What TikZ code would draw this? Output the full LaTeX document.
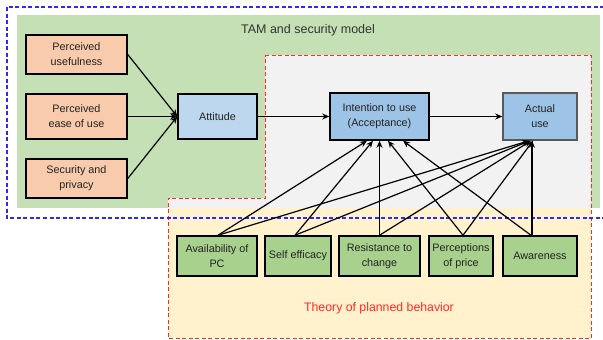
\documentclass[tikz,border=0pt]{standalone}
\usepackage{fontspec}
\setmainfont{Liberation Sans}
\usetikzlibrary{arrows.meta,calc}
\definecolor{tamgreen}{HTML}{C5E0B4}
\definecolor{tpbgray}{HTML}{F2F2F2}
\definecolor{tpbyellow}{HTML}{FFF2CC}
\definecolor{peach}{HTML}{F8CBAD}
\definecolor{lblue}{HTML}{BDD7EE}
\definecolor{mblue}{HTML}{9DC3E6}
\definecolor{bgreen}{HTML}{A9D18E}
\definecolor{txt}{HTML}{222222}
\definecolor{tpbred}{HTML}{FF2A2A}
\definecolor{tamblue}{HTML}{2A2AFF}
\tikzset{
  box/.style={draw=black, line width=1.5pt, align=center, inner sep=1pt,
    font=\fontsize{10.8}{15}\selectfont, text=txt},
  arr/.style={line width=1.2pt, -{Stealth[length=7pt,width=6pt]}},
  lbl/.style={font=\fontsize{12.5}{15}\selectfont}
}
\begin{document}
\begin{tikzpicture}[x=1pt,y=-1pt]
\useasboundingbox (0,0) rectangle (603,340);
\fill[white] (0,0) rectangle (603,340);
% backgrounds
\fill[tamgreen] (17,15) rectangle (600,208);
\fill[tpbgray] (265,55) -- (591,55) -- (591,208) -- (168,208) -- (168,198) -- (265,198) -- cycle;
\fill[tpbyellow] (168,208) rectangle (591,338);
\draw[tpbred, line width=1pt, dash pattern=on 4pt off 2.5pt] (265,55) -- (591,55) -- (591,338) -- (168,338) -- (168,198) -- (265,198) -- cycle;
\draw[tamblue, line width=1.2pt, dash pattern=on 4pt off 2.5pt] (7,7) rectangle (608,218);
% titles
\node[lbl, text=black!80] (tamtitle) at (308,30) {TAM and security model};
\node[lbl, text=tpbred, font=\fontsize{12.3}{15}\selectfont] (tpbtitle) at (379,308) {Theory of planned behavior};
% TAM boxes
\node[box, fill=peach, minimum width=101pt, minimum height=39pt] (pu) at (76.5,54.5) {Perceived\\usefulness};
\node[box, fill=peach, minimum width=101pt, minimum height=45pt] (peou) at (76.5,116.5) {Perceived\\ease of use};
\node[box, fill=peach, minimum width=101pt, minimum height=39pt] (sp) at (76.5,178.5) {Security and\\privacy};
\node[box, fill=lblue, minimum width=79pt, minimum height=45pt] (att) at (217.5,116.5) {Attitude};
\node[box, fill=mblue, minimum width=99pt, minimum height=47pt] (int) at (379.5,116.5) {Intention to use\\(Acceptance)};
\node[box, fill=mblue, draw=black!65, minimum width=74pt, minimum height=47pt] (act) at (540,116.5) {Actual\\use};
% TPB boxes
\node[box, fill=bgreen, minimum width=80pt, minimum height=40pt] (avail) at (217,256) {Availability of\\PC};
\node[box, fill=bgreen, minimum width=66pt, minimum height=40pt] (self) at (298,256) {Self efficacy};
\node[box, fill=bgreen, minimum width=81pt, minimum height=40pt] (resist) at (379.5,256) {Resistance to\\change};
\node[box, fill=bgreen, minimum width=64pt, minimum height=40pt] (price) at (461,256) {Perceptions\\of price};
\node[box, fill=bgreen, minimum width=74pt, minimum height=40pt] (aware) at (540,256) {Awareness};
% TAM arrows
\draw[arr] (pu.east) -- (att.west);
\draw[arr] (peou.east) -- (att.west);
\draw[arr] (sp.east) -- (att.west);
\draw[arr] (att.east) -- (int.west);
\draw[arr] (int.east) -- (act.west);
% TPB arrows to intention
\draw[arr] ($(avail.north)+(1,0)$) -- ($(int.south)+(-12.5,0)$);
\draw[arr] ($(self.north)+(-3,0)$) -- ($(int.south)+(-6.5,0)$);
\draw[arr] (resist.north) -- (int.south);
\draw[arr] ($(price.north)+(2,0)$) -- ($(int.south)+(8.5,0)$);
\draw[arr] ($(aware.north)+(-9,0)$) -- ($(int.south)+(23.5,0)$);
% TPB arrows to actual use
\draw[arr] ($(avail.north)+(1,0)$) -- ($(act.south)+(-11,0)$);
\draw[arr] ($(self.north)+(-3,0)$) -- ($(act.south)+(-10,0)$);
\draw[arr] (resist.north) -- ($(act.south)+(-9,0)$);
\draw[arr] ($(price.north)+(2,0)$) -- ($(act.south)+(-7,0)$);
\draw[arr] ($(aware.north)+(-8,0)$) -- ($(act.south)+(-8,0)$);
\end{tikzpicture}
\end{document}
